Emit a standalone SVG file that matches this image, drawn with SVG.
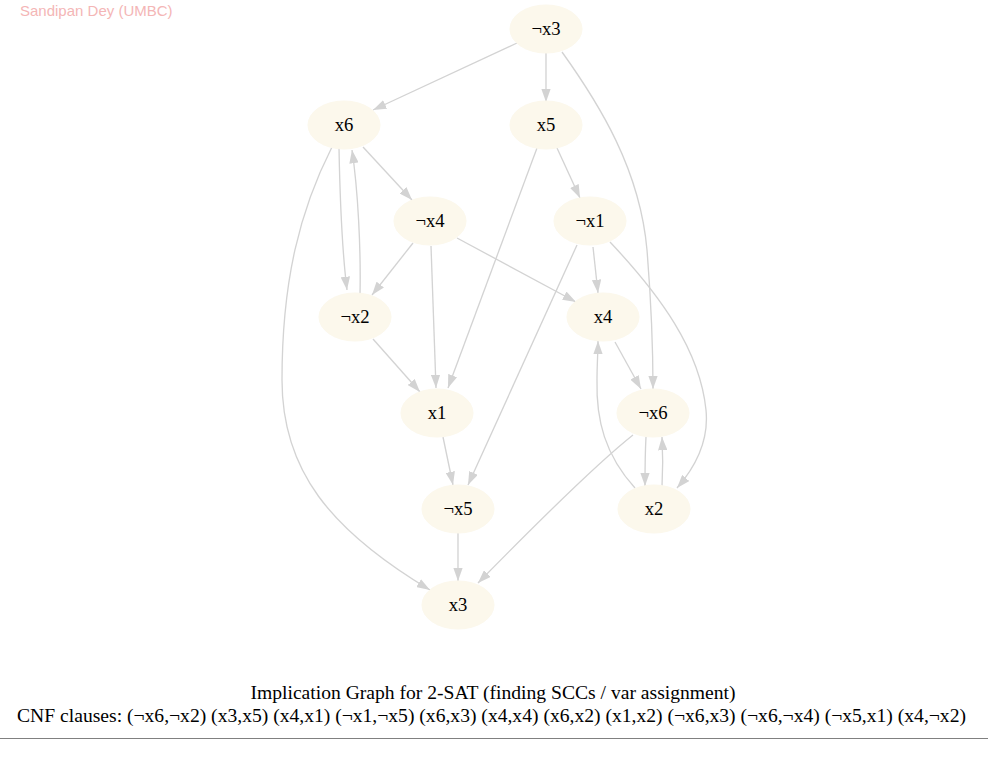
<svg xmlns="http://www.w3.org/2000/svg" width="988" height="779" viewBox="0 0 988 779">
<style>
.node ellipse{fill:#FCF8EC;stroke:#FCF8EC;stroke-width:1}
.node text{font-family:"Liberation Serif","Times New Roman",serif;font-size:18.67px;fill:#000;text-anchor:middle}
.edge{fill:none;stroke:#D3D3D3;stroke-width:1.33;marker-end:url(#ah)}
.cap{font-family:"Liberation Serif","Times New Roman",serif;font-size:19.6px;fill:#000;text-anchor:middle}
</style>
<defs>
<marker id="ah" viewBox="0 0 13.3 9.4" refX="13.3" refY="4.7" markerWidth="13.3" markerHeight="9.4" markerUnits="userSpaceOnUse" orient="auto">
<path d="M0,0 L13.3,4.7 L0,9.4 z" fill="#D3D3D3"/>
</marker>
</defs>
<rect width="988" height="779" fill="#fff"/>
<text x="20" y="16" font-family="'Liberation Sans',Arial,sans-serif" font-size="15" fill="#F4B6B6">Sandipan Dey (UMBC)</text>
<g id="edges">
<path class="edge" d="M517,43 L373,110"/>
<path class="edge" d="M546,53 L546,102"/>
<path class="edge" d="M562,52 C600,105 640,170 647,250 C651,300 653,350 653,389"/>
<path class="edge" d="M363,147 L412,200"/>
<path class="edge" d="M339,148 C340,200 342,250 347,290"/>
<path class="edge" d="M360,295 C361,250 358,190 352,150"/>
<path class="edge" d="M332,147 C300,210 282,280 282,380 C282,470 330,530 430,590"/>
<path class="edge" d="M537,148 L448,388"/>
<path class="edge" d="M557,148 L580,198"/>
<path class="edge" d="M413,243 L372,295"/>
<path class="edge" d="M431,246 L436,388"/>
<path class="edge" d="M457,238 L576,302"/>
<path class="edge" d="M593,247 L598,293"/>
<path class="edge" d="M577,245 L468,485"/>
<path class="edge" d="M610,242 C660,295 700,350 706,410 C709,440 697,465 677,488"/>
<path class="edge" d="M373,339 L420,392"/>
<path class="edge" d="M615,342 L641,389"/>
<path class="edge" d="M443,437 L453,485"/>
<path class="edge" d="M646,437 C645,455 645,470 645,486"/>
<path class="edge" d="M662,487 C663,470 663,455 662,437"/>
<path class="edge" d="M635,488 C605,455 596,420 597,380 C597,365 598,352 598,341"/>
<path class="edge" d="M633,435 C595,465 530,530 478,583"/>
<path class="edge" d="M458,533 L458,581"/>
</g>
<g id="n_not_x3" class="node"><ellipse cx="546" cy="29" rx="36" ry="24"/><text x="546" y="35">¬x3</text></g>
<g id="n_x6" class="node"><ellipse cx="344" cy="125" rx="36" ry="24"/><text x="344" y="131">x6</text></g>
<g id="n_x5" class="node"><ellipse cx="546" cy="125" rx="36" ry="24"/><text x="546" y="131">x5</text></g>
<g id="n_not_x4" class="node"><ellipse cx="430" cy="221" rx="36" ry="24"/><text x="430" y="227">¬x4</text></g>
<g id="n_not_x1" class="node"><ellipse cx="590" cy="221" rx="36" ry="24"/><text x="590" y="227">¬x1</text></g>
<g id="n_not_x2" class="node"><ellipse cx="355" cy="317" rx="36" ry="24"/><text x="355" y="323">¬x2</text></g>
<g id="n_x4" class="node"><ellipse cx="603" cy="317" rx="36" ry="24"/><text x="603" y="323">x4</text></g>
<g id="n_x1" class="node"><ellipse cx="437" cy="413" rx="36" ry="24"/><text x="437" y="419">x1</text></g>
<g id="n_not_x6" class="node"><ellipse cx="653" cy="413" rx="36" ry="24"/><text x="653" y="419">¬x6</text></g>
<g id="n_not_x5" class="node"><ellipse cx="458" cy="509" rx="36" ry="24"/><text x="458" y="515">¬x5</text></g>
<g id="n_x2" class="node"><ellipse cx="654" cy="509" rx="36" ry="24"/><text x="654" y="515">x2</text></g>
<g id="n_x3" class="node"><ellipse cx="458" cy="605" rx="36" ry="24"/><text x="458" y="611">x3</text></g>
<text class="cap" x="493" y="699">Implication Graph for 2-SAT (finding SCCs / var assignment)</text>
<text class="cap" x="491.5" y="722">CNF clauses: (¬x6,¬x2) (x3,x5) (x4,x1) (¬x1,¬x5) (x6,x3) (x4,x4) (x6,x2) (x1,x2) (¬x6,x3) (¬x6,¬x4) (¬x5,x1) (x4,¬x2)</text>
<line x1="0" y1="738.5" x2="988" y2="738.5" stroke="#808080" stroke-width="1"/>
</svg>
